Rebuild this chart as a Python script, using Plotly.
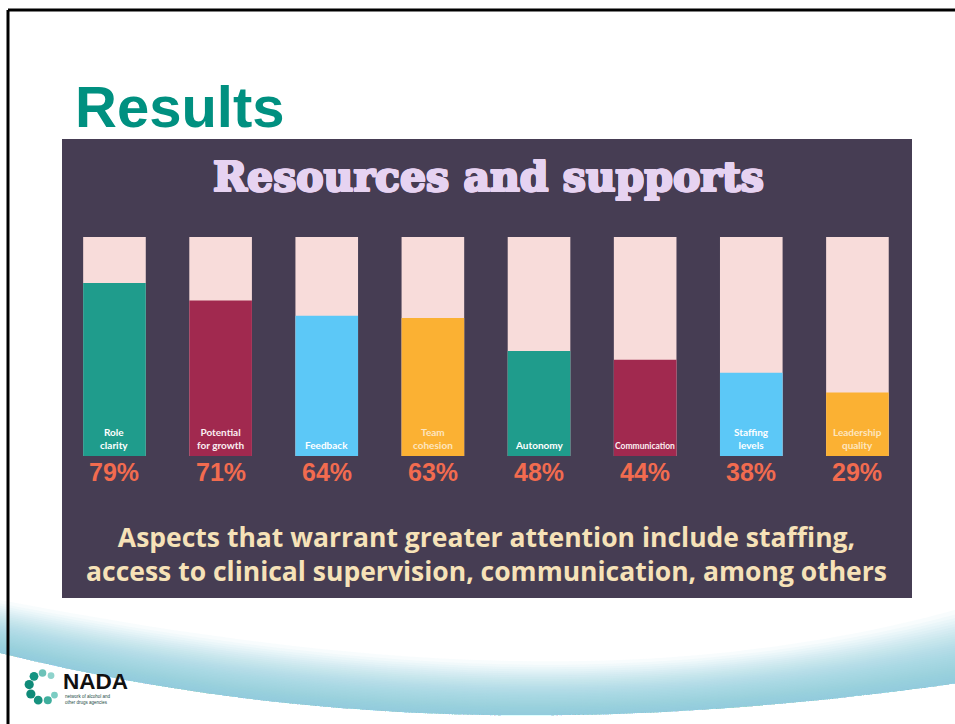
import numpy as np
import plotly.graph_objects as go

# --- data -------------------------------------------------------------
categories = ["Role clarity", "Potential for growth", "Feedback", "Team cohesion",
              "Autonomy", "Communication", "Staffing levels", "Leadership quality"]
bar_labels = ["Role<br>clarity", "Potential<br>for growth", "Feedback", "Team<br>cohesion",
              "Autonomy", "Communication", "Staffing<br>levels", "Leadership<br>quality"]
percent_agree = [79, 71, 64, 63, 48, 44, 38, 29]
full_scale = [100 for _ in categories]

# --- palette ----------------------------------------------------------
W, H = 955, 724
PANEL = "#463d53"
TRACK = "#f8dcda"
fill_colors = ["#1f9c8c", "#a1294f", "#5cc8f7", "#fbb133"] * 2
label_colors = ["#ffffff", "#fbeff2", "#ffffff", "#fde6c0"] * 2
PCT = "#f26b4f"
CREAM = "#f6e2b8"
LAVENDER = "#e6d3f1"


def px(x):
    return x / W


def py(y):
    return 1 - y / H


def thicken(color, d):
    """Text-shadow ring that makes a glyph look heavier."""
    offs = [(d, 0), (-d, 0), (0, d), (0, -d), (d, d), (-d, -d), (d, -d), (-d, d)]
    return ", ".join(f"{a}px {b}px 0px {color}" for a, b in offs)


fig = go.Figure()

# pale track behind each bar (full 100 %)
fig.add_trace(go.Bar(
    x=categories, y=full_scale, width=0.59,
    marker=dict(color=TRACK, line=dict(width=0)),
    hoverinfo="skip", showlegend=False,
))
# coloured fill = share of respondents
fig.add_trace(go.Bar(
    x=categories, y=percent_agree, width=0.59,
    marker=dict(color=fill_colors, line=dict(width=0)),
    hovertemplate="%{x}: %{y}%<extra></extra>", showlegend=False,
))

annotations = []
for cat, lab, val, lc in zip(categories, bar_labels, percent_agree, label_colors):
    size = 8.5 if len(lab) > 12 and "<br>" not in lab else 10
    annotations.append(dict(
        x=cat, y=0, xref="x", yref="y", text=f"<b>{lab}</b>", showarrow=False,
        yanchor="bottom", yshift=3, font=dict(family="Lato", size=size, color=lc),
    ))
    annotations.append(dict(
        x=cat, y=0, xref="x", yref="y", text=f"<b>{val}%</b>", showarrow=False,
        yanchor="top", yshift=0, font=dict(family="Liberation Sans", size=25, color=PCT),
    ))

# slide heading
annotations.append(dict(
    x=px(73), y=py(106), xref="paper", yref="paper", xanchor="left", yanchor="middle",
    text="<b>Results</b>", showarrow=False,
    font=dict(family="Liberation Sans", size=58, color="#009080"),
))
# panel title
annotations.append(dict(
    x=px(488), y=py(177), xref="paper", yref="paper", xanchor="center", yanchor="middle",
    text="<b>Resources and supports</b>", showarrow=False,
    font=dict(family="DejaVu Serif", size=41, color=LAVENDER,
              shadow=thicken(LAVENDER, 1)),
))
# panel footer
annotations.append(dict(
    x=px(486), y=py(554), xref="paper", yref="paper", xanchor="center", yanchor="middle",
    text="<b>Aspects that warrant greater attention include staffing,<br>"
         "access to clinical supervision, communication, among others</b>",
    showarrow=False, align="center",
    font=dict(family="Open Sans", size=26.5, color=CREAM),
))
# logo wordmark
annotations.append(dict(
    x=px(61), y=py(681), xref="paper", yref="paper", xanchor="left", yanchor="middle",
    text="<b>NADA</b>", showarrow=False,
    font=dict(family="Liberation Sans", size=22.5, color="#111111"),
))
annotations.append(dict(
    x=px(63), y=py(699), xref="paper", yref="paper", xanchor="left", yanchor="middle",
    text="network of alcohol and<br>other drugs agencies", showarrow=False, align="left",
    font=dict(family="Liberation Sans", size=4.5, color="#1b4a45"),
))

shapes = []

# soft teal wave along the bottom of the slide
lx = [0, 160, 480, 700, 955]
ly = [652, 688, 712, 712, 683]
ty = [600, 628, 660, 655, 610]
xs = np.linspace(0, W, 60)
lower = np.polyval(np.polyfit(lx, ly, 3), xs)
upper = np.polyval(np.polyfit(lx, ty, 3), xs)
n_layers = 32
for k in range(n_layers):
    frac = (k / n_layers) ** 0.8
    top = upper + (lower - upper) * frac
    pts = [(px(x), py(y)) for x, y in zip(xs, top)] + \
          [(px(x), py(y)) for x, y in zip(xs[::-1], lower[::-1])]
    path = "M " + " L ".join(f"{a:.5f},{b:.5f}" for a, b in pts) + " Z"
    shapes.append(dict(type="path", xref="paper", yref="paper", path=path,
                       fillcolor="#8fd0d5", opacity=0.06, line=dict(width=0),
                       layer="below"))

# dark panel behind the chart
shapes.append(dict(type="rect", xref="paper", yref="paper",
                   x0=px(62), x1=px(912), y0=py(598), y1=py(139),
                   fillcolor=PANEL, line=dict(width=0), layer="below"))

# slide frame (top and left edges)
shapes.append(dict(type="line", xref="paper", yref="paper",
                   x0=px(8), x1=1, y0=py(10), y1=py(10),
                   line=dict(color="#000000", width=3)))
shapes.append(dict(type="line", xref="paper", yref="paper",
                   x0=px(8), x1=px(8), y0=py(10), y1=0,
                   line=dict(color="#000000", width=3)))

# logo dots arranged in an open ring
cx, cy, r = 43, 687, 14
dot_angles = [55, 92, 130, 170, 210, 250, 290, 325]
dot_sizes = [3.4, 3.8, 4.4, 4.6, 4.6, 4.4, 4.0, 3.4]
dot_cols = ["#8fd3cc", "#6cc2b8", "#149482", "#0f8a78", "#0f8a78", "#17927f", "#3fae9d", "#7ccdc3"]
for a, s, c in zip(dot_angles, dot_sizes, dot_cols):
    x = cx + r * np.cos(np.radians(a))
    y = cy - r * np.sin(np.radians(a))
    shapes.append(dict(type="circle", xref="paper", yref="paper",
                       x0=px(x - s), x1=px(x + s), y0=py(y + s), y1=py(y - s),
                       fillcolor=c, line=dict(width=0)))

fig.update_layout(
    width=W, height=H,
    margin=dict(l=0, r=0, t=0, b=0),
    paper_bgcolor="#ffffff", plot_bgcolor="rgba(0,0,0,0)",
    barmode="overlay", bargap=0.4,
    xaxis=dict(domain=[px(61.4), px(910.5)], range=[-0.5, 7.5], showgrid=False,
               zeroline=False, showticklabels=False, showline=False, fixedrange=True),
    yaxis=dict(domain=[py(456), py(237)], range=[0, 100], showgrid=False,
               zeroline=False, showticklabels=False, showline=False, fixedrange=True),
    shapes=shapes, annotations=annotations,
)

fig.write_html("out.html")
